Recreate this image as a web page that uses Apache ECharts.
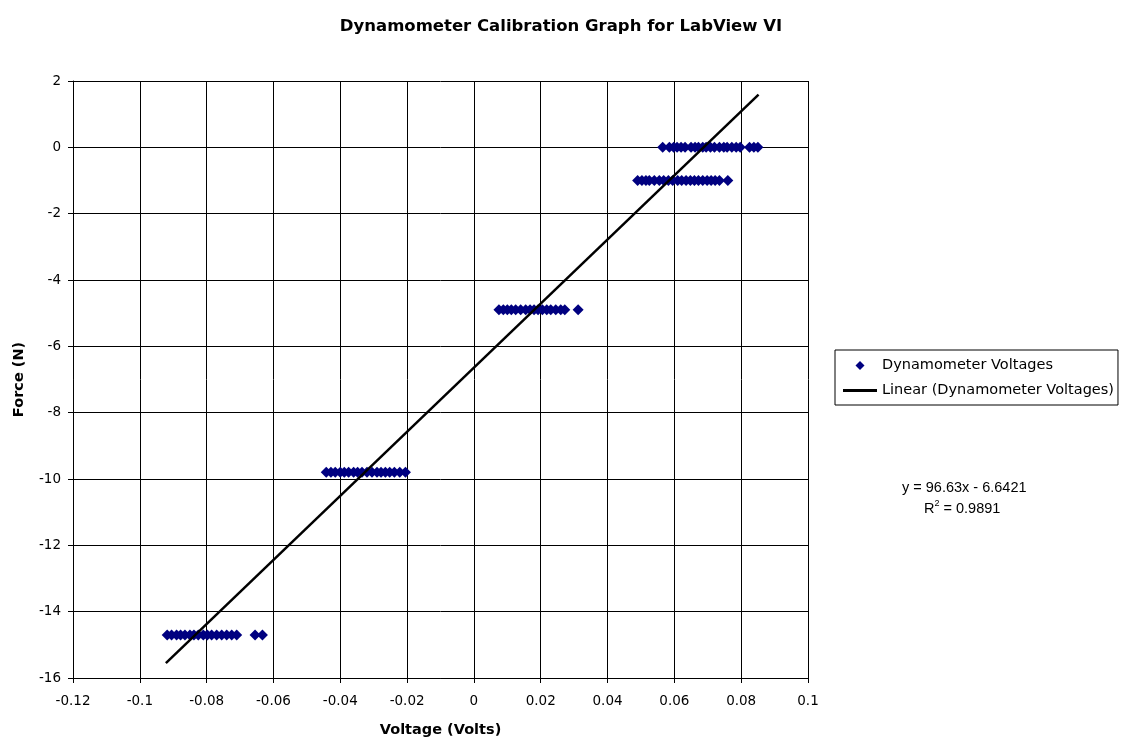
<!DOCTYPE html>
<html>
<head>
<meta charset="utf-8">
<script src="https://cdn.jsdelivr.net/npm/echarts@6/dist/echarts.min.js"></script>
<style>
  html, body { margin: 0; padding: 0; background: #fff; }
  #chart { width: 1122px; height: 741px; }
</style>
</head>
<body>
<div id="chart"></div>
<script>
// force levels (N) and the voltages read at each level
var forceLevels = [0, -1, -4.9, -9.8, -14.7];
var voltsAt0 = [0.0565, 0.0585, 0.0598, 0.0608, 0.062, 0.0632, 0.065, 0.0662, 0.0672, 0.0685, 0.0695,
                0.0708, 0.072, 0.0735, 0.0748, 0.0758, 0.0772, 0.0785, 0.0797, 0.0825, 0.0838, 0.0850];
var voltsAtM1 = [0.049, 0.0503, 0.0515, 0.0525, 0.054, 0.0555, 0.0568, 0.0582, 0.0595, 0.061, 0.0622,
                 0.0635, 0.0648, 0.066, 0.0672, 0.0685, 0.0698, 0.071, 0.0722, 0.0735, 0.076];
var voltsAtM49 = [0.0075, 0.0088, 0.01, 0.0112, 0.0125, 0.014, 0.0155, 0.0168, 0.018, 0.0192, 0.0205,
                  0.0218, 0.023, 0.0245, 0.026, 0.0272, 0.0312];
var voltsAtM98 = [-0.0442, -0.0428, -0.0415, -0.04, -0.0388, -0.0375, -0.036, -0.0348, -0.0335, -0.032,
                  -0.0305, -0.029, -0.0278, -0.0265, -0.0252, -0.0238, -0.0222, -0.0205];
var voltsAtM147 = [-0.0918, -0.0905, -0.089, -0.0878, -0.0865, -0.085, -0.0838, -0.0825, -0.081, -0.0798,
                   -0.0785, -0.077, -0.0755, -0.074, -0.0725, -0.071, -0.0655, -0.0633];
// trendline end points as drawn
var trendX = [-0.0922, 0.0852];
var trendY = [-15.55, 1.59];

var groups = [voltsAt0, voltsAtM1, voltsAtM49, voltsAtM98, voltsAtM147];
var scatterData = [];
for (var i = 0; i < groups.length; i++) {
    for (var v of groups[i]) {
        scatterData.push([v, forceLevels[i]]);
    }
}
var trendData = [[trendX[0], trendY[0]], [trendX[1], trendY[1]]];

var font = 'DejaVu Sans, sans-serif';
var font2 = '"Liberation Sans", Arial, sans-serif';
var chart = echarts.init(document.getElementById('chart'));
chart.setOption({
    animation: false,
    backgroundColor: '#fff',
    textStyle: { fontFamily: font },
    title: {
        text: 'Dynamometer Calibration Graph for LabView VI',
        left: 'center',
        top: 13,
        textStyle: { fontSize: 16.5, fontWeight: 'bold', color: '#000', fontFamily: font }
    },
    grid: { left: 73, top: 81, width: 735, height: 597, outerBoundsMode: 'none', containLabel: false },
    legend: {
        orient: 'vertical',
        left: 835,
        top: 350,
        padding: [8, 4, 7, 8],
        itemGap: 10,
        itemWidth: 34,
        itemHeight: 9,
        itemStyle: { opacity: 1 },
        symbolKeepAspect: true,
        borderColor: '#000',
        borderWidth: 1,
        borderRadius: 0,
        textStyle: { fontSize: 14.5, color: '#000', fontFamily: font },
        data: [
            { name: 'Dynamometer Voltages', icon: 'path://M0,-1L1,0L0,1L-1,0Z' },
            { name: 'Linear (Dynamometer Voltages)', icon: 'path://M0,0H34V3H0Z' }
        ]
    },
    xAxis: {
        type: 'value',
        min: -0.12,
        max: 0.1,
        interval: 0.02,
        name: 'Voltage (Volts)',
        nameLocation: 'middle',
        nameGap: 45,
        nameTextStyle: { fontSize: 14.5, fontWeight: 'bold', color: '#000', fontFamily: font },
        axisLine: { show: true, onZero: false, lineStyle: { color: '#000', width: 1 } },
        axisTick: { show: true, length: 5, lineStyle: { color: '#000' } },
        axisLabel: {
            fontSize: 13.5, color: '#000', margin: 16,
            formatter: function (v) { return String(Number(v.toFixed(2))); }
        },
        splitLine: { show: true, lineStyle: { color: '#000', width: 1 } }
    },
    yAxis: {
        type: 'value',
        min: -16,
        max: 2,
        interval: 2,
        name: 'Force (N)',
        nameLocation: 'middle',
        nameGap: 46,
        nameTextStyle: { fontSize: 14.5, fontWeight: 'bold', color: '#000', fontFamily: font },
        axisLine: { show: true, onZero: false, lineStyle: { color: '#000', width: 1 } },
        axisTick: { show: true, length: 5, lineStyle: { color: '#000' } },
        axisLabel: { fontSize: 13.5, color: '#000', margin: 12 },
        splitLine: { show: true, lineStyle: { color: '#000', width: 1 } }
    },
    graphic: [{
        type: 'group',
        left: 902,
        top: 480,
        children: [
            {
                type: 'text',
                style: { text: 'y = 96.63x - 6.6421', x: 0, y: 0, fontSize: 14.5, fontFamily: font2, fill: '#000' }
            },
            {
                type: 'text',
                style: {
                    text: '{a|R}{s|2}{a| = 0.9891}', x: 22, y: 19, fill: '#000',
                    rich: {
                        a: { fontSize: 14.5, fontFamily: font2, verticalAlign: 'bottom', lineHeight: 17 },
                        s: { fontSize: 9, fontFamily: font2, verticalAlign: 'top', lineHeight: 17 }
                    }
                }
            }
        ]
    }],
    series: [
        {
            name: 'Dynamometer Voltages',
            type: 'scatter',
            symbol: 'diamond',
            symbolSize: 11,
            itemStyle: { color: '#000080', opacity: 1 },
            data: scatterData,
            z: 3
        },
        {
            name: 'Linear (Dynamometer Voltages)',
            type: 'line',
            symbol: 'none',
            lineStyle: { color: '#000', width: 2.5 },
            itemStyle: { color: '#000' },
            data: trendData,
            z: 4
        }
    ]
});
</script>
</body>
</html>
